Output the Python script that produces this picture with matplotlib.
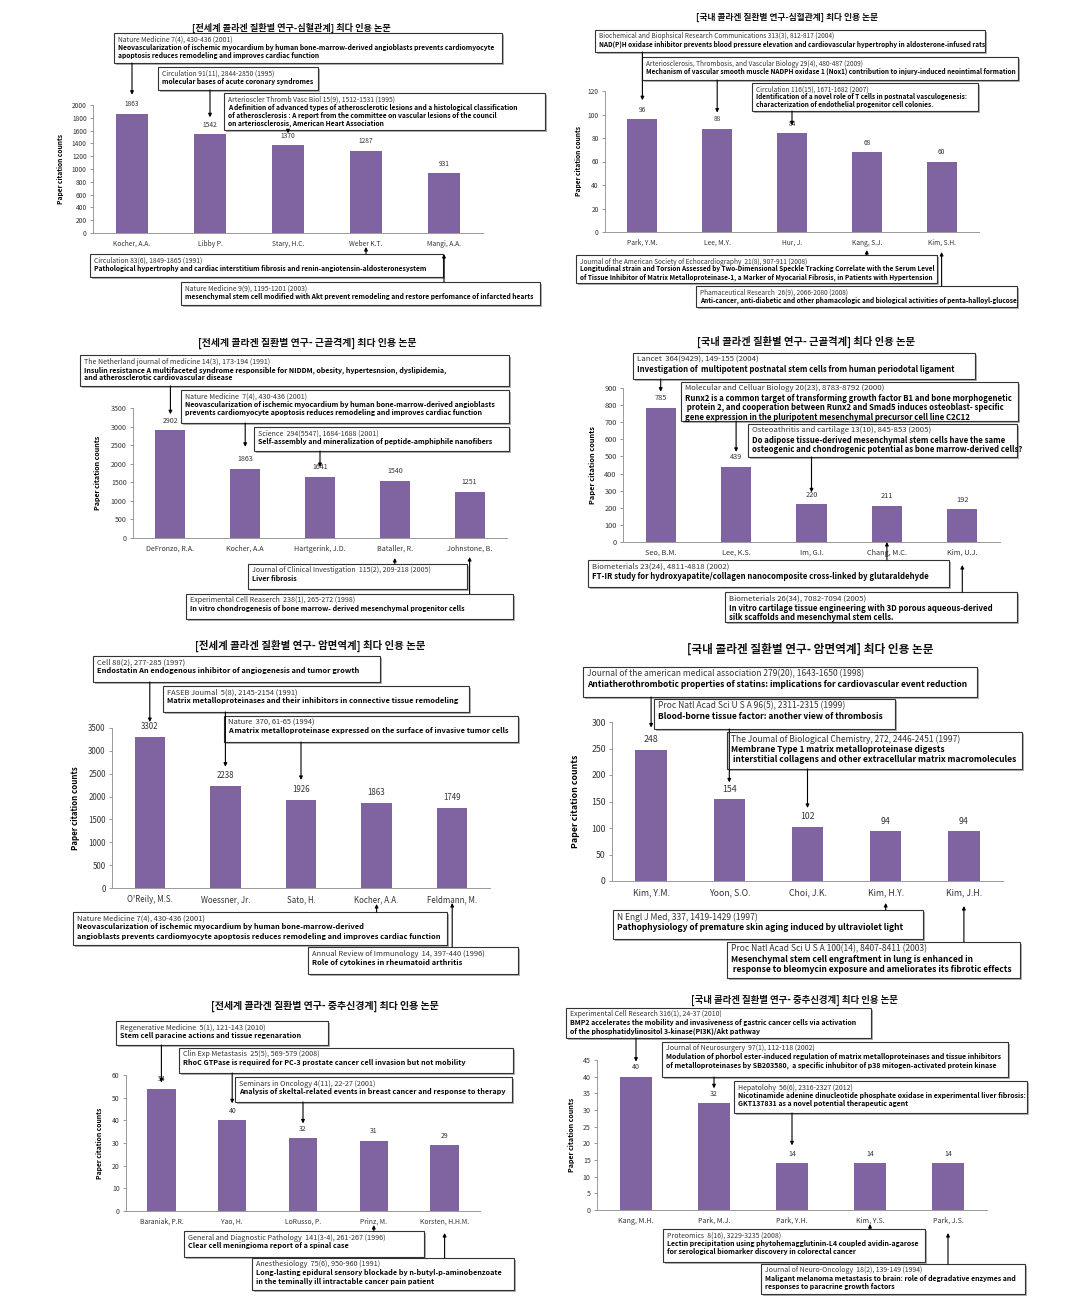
import numpy as np
import matplotlib
matplotlib.use('Agg')
import matplotlib.pyplot as plt
from matplotlib.patches import Rectangle
from matplotlib.transforms import blended_transform_factory

plt.rcParams['font.family'] = ['Noto Sans CJK KR', 'DejaVu Sans']

W, H = 1065, 1300
BAR_COLOR = '#8064A2'

# ---------------- data ----------------
p1_title = '[전세계 콜라겐 질환별 연구-심혈관계] 최다 인용 논문'
p1_names = ['Kocher, A.A.', 'Libby P.', 'Stary, H.C.', 'Weber K.T.', 'Mangi, A.A.']
p1_counts = [1863, 1542, 1370, 1287, 931]
p1_refs = [
    ['Nature Medicine 7(4), 430-436 (2001)',
     'Neovascularization of ischemic myocardium by human bone-marrow-derived angioblasts prevents cardiomyocyte',
     'apoptosis reduces remodeling and improves cardiac function'],
    ['Circulation 91(11), 2844-2850 (1995)',
     'molecular bases of acute coronary syndromes'],
    ['Arterioscler Thromb Vasc Biol 15(9), 1512-1531 (1995)',
     'A definition of advanced types of atherosclerotic lesions and a histological classification',
     'of atherosclerosis : A report from the committee on vascular lesions of the council',
     'on arteriosclerosis, American Heart Association'],
    ['Circulation 83(6), 1849-1865 (1991)',
     'Pathological hypertrophy and cardiac interstitium fibrosis and renin-angiotensin-aldosteronesystem'],
    ['Nature Medicine 9(9), 1195-1201 (2003)',
     'mesenchymal stem cell modified with Akt prevent remodeling and restore perfomance of infarcted hearts'],
]

p2_title = '[국내 콜라겐 질환별 연구-심혈관계] 최다 인용 논문'
p2_names = ['Park, Y.M.', 'Lee, M.Y.', 'Hur, J.', 'Kang, S.J.', 'Kim, S.H.']
p2_counts = [96, 88, 84, 68, 60]
p2_refs = [
    ['Biochemical and Biophsical Research Communications 313(3), 812-817 (2004)',
     'NAD(P)H oxidase inhibitor prevents blood pressure elevation and cardiovascular hypertrophy in aldosterone-infused rats'],
    ['Arteriosclerosis, Thrombosis, and Vascular Biology 29(4), 480-487 (2009)',
     'Mechanism of vascular smooth muscle NADPH oxidase 1 (Nox1) contribution to injury-induced neointimal formation'],
    ['Circulation 116(15), 1671-1682 (2007)',
     'Identification of a novel role of T cells in postnatal vasculogenesis:',
     'characterization of endothelial progenitor cell colonies.'],
    ['Journal of the American Society of Echocardiography  21(8), 907-911 (2008)',
     'Longitudinal strain and Torsion Assessed by Two-Dimensional Speckle Tracking Correlate with the Serum Level',
     'of Tissue Inhibitor of Matrix Metalloproteinase-1, a Marker of Myocarial Fibrosis, in Patients with Hypertension'],
    ['Phamaceutical Research  26(9), 2066-2080 (2008)',
     'Anti-cancer, anti-diabetic and other phamacologic and biological activities of penta-halloyl-glucose'],
]

p3_title = '[전세계 콜라겐 질환별 연구- 근골격계] 최다 인용 논문'
p3_names = ['DeFronzo, R.A.', 'Kocher, A.A', 'Hartgerink, J.D.', 'Bataller, R.', 'Johnstone, B.']
p3_counts = [2902, 1863, 1641, 1540, 1251]
p3_refs = [
    ['The Netherland journal of medicine 14(3), 173-194 (1991)',
     'Insulin resistance A multifaceted syndrome responsible for NIDDM, obesity, hypertesnsion, dyslipidemia,',
     'and atherosclerotic cardiovascular disease'],
    ['Nature Medicine  7(4), 430-436 (2001)',
     'Neovascularization of ischemic myocardium by human bone-marrow-derived angioblasts',
     'prevents cardiomyocyte apoptosis reduces remodeling and improves cardiac function'],
    ['Science  294(5547), 1684-1688 (2001)',
     'Self-assembly and mineralization of peptide-amphiphile nanofibers'],
    ['Journal of Clinical Investigation  115(2), 209-218 (2005)',
     'Liver fibrosis'],
    ['Experimental Cell Reaserch  238(1), 265-272 (1998)',
     'In vitro chondrogenesis of bone marrow- derived mesenchymal progenitor cells'],
]

p4_title = '[국내 콜라겐 질환별 연구- 근골격계] 최다 인용 논문'
p4_names = ['Seo, B.M.', 'Lee, K.S.', 'Im, G.I.', 'Chang, M.C.', 'Kim, U.J.']
p4_counts = [785, 439, 220, 211, 192]
p4_refs = [
    ['Lancet  364(9429), 149-155 (2004)',
     'Investigation of  multipotent postnatal stem cells from human periodotal ligament'],
    ['Molecular and Celluar Biology 20(23), 8783-8792 (2000)',
     'Runx2 is a common target of transforming growth factor B1 and bone morphogenetic',
     ' protein 2, and cooperation between Runx2 and Smad5 induces osteoblast- specific',
     'gene expression in the pluripotent mesenchymal precursor cell line C2C12'],
    ['Osteoathritis and cartilage 13(10), 845-853 (2005)',
     'Do adipose tissue-derived mesenchymal stem cells have the same',
     'osteogenic and chondrogenic potential as bone marrow-derived cells?'],
    ['Biometerials 23(24), 4811-4818 (2002)',
     'FT-IR study for hydroxyapatite/collagen nanocomposite cross-linked by glutaraldehyde'],
    ['Biometerials 26(34), 7082-7094 (2005)',
     'In vitro cartilage tissue engineering with 3D porous aqueous-derived',
     'silk scaffolds and mesenchymal stem cells.'],
]

p5_title = '[전세계 콜라겐 질환별 연구- 암면역계] 최다 인용 논문'
p5_names = ["O'Reily, M.S.", 'Woessner, Jr.', 'Sato, H.', 'Kocher, A.A.', 'Feldmann, M.']
p5_counts = [3302, 2238, 1926, 1863, 1749]
p5_refs = [
    ['Cell 88(2), 277-285 (1997)',
     'Endostatin An endogenous inhibitor of angiogenesis and tumor growth'],
    ['FASEB Joumal  5(8), 2145-2154 (1991)',
     'Matrix metalloproteinases and their inhibitors in connective tissue remodeling'],
    ['Nature  370, 61-65 (1994)',
     'A matrix metalloproteinase expressed on the surface of invasive tumor cells'],
    ['Nature Medicine 7(4), 430-436 (2001)',
     'Neovascularization of ischemic myocardium by human bone-marrow-derived',
     'angioblasts prevents cardiomyocyte apoptosis reduces remodeling and improves cardiac function'],
    ['Annual Review of Immunology  14, 397-440 (1996)',
     'Role of cytokines in rheumatoid arthritis'],
]

p6_title = '[국내 콜라겐 질환별 연구- 암면역계] 최다 인용 논문'
p6_names = ['Kim, Y.M.', 'Yoon, S.O.', 'Choi, J.K.', 'Kim, H.Y.', 'Kim, J.H.']
p6_counts = [248, 154, 102, 94, 94]
p6_refs = [
    ['Journal of the american medical association 279(20), 1643-1650 (1998)',
     'Antiatherothrombotic properties of statins: implications for cardiovascular event reduction'],
    ['Proc Natl Acad Sci U S A 96(5), 2311-2315 (1999)',
     'Blood-borne tissue factor: another view of thrombosis'],
    ['The Joumal of Biological Chemistry, 272, 2446-2451 (1997)',
     'Membrane Type 1 matrix metalloproteinase digests',
     ' interstitial collagens and other extracellular matrix macromolecules'],
    ['N Engl J Med, 337, 1419-1429 (1997)',
     'Pathophysiology of premature skin aging induced by ultraviolet light'],
    ['Proc Natl Acad Sci U S A 100(14), 8407-8411 (2003)',
     'Mesenchymal stem cell engraftment in lung is enhanced in',
     ' response to bleomycin exposure and ameliorates its fibrotic effects'],
]

p7_title = '[전세계 콜라겐 질환별 연구- 중추신경계] 최다 인용 논문'
p7_names = ['Baraniak, P.R.', 'Yao, H.', 'LoRusso, P.', 'Prinz, M.', 'Korsten, H.H.M.']
p7_counts = [54, 40, 32, 31, 29]
p7_refs = [
    ['Regenerative Medicine  5(1), 121-143 (2010)',
     'Stem cell paracine actions and tissue regenaration'],
    ['Clin Exp Metastasis  25(5), 569-579 (2008)',
     'RhoC GTPase is required for PC-3 prostate cancer cell invasion but not mobility'],
    ['Seminars in Oncology 4(11), 22-27 (2001)',
     'Analysis of skeltal-related events in breast cancer and response to therapy'],
    ['General and Diagnostic Pathology  141(3-4), 261-267 (1996)',
     'Clear cell meningioma report of a spinal case'],
    ['Anesthesiology  75(6), 950-960 (1991)',
     'Long-lasting epidural sensory blockade by n-butyl-p-aminobenzoate',
     'in the teminally ill intractable cancer pain patient'],
]

p8_title = '[국내 콜라겐 질환별 연구- 중추신경계] 최다 인용 논문'
p8_names = ['Kang, M.H.', 'Park, M.J.', 'Park, Y.H.', 'Kim, Y.S.', 'Park, J.S.']
p8_counts = [40, 32, 14, 14, 14]
p8_refs = [
    ['Experimental Cell Research 316(1), 24-37 (2010)',
     'BMP2 accelerates the mobility and invasiveness of gastric cancer cells via activation',
     'of the phosphatidylinositol 3-kinase(PI3K)/Akt pathway'],
    ['Journal of Neurosurgery  97(1), 112-118 (2002)',
     'Modulation of phorbol ester-induced regulation of matrix metalloproteinases and tissue inhibitors',
     'of metalloproteinases by SB203580,  a specific inhubitor of p38 mitogen-activated protein kinase'],
    ['Hepatolohy  56(6), 2316-2327 (2012)',
     'Nicotinamide adenine dinucleotide phosphate oxidase in experimental liver fibrosis:',
     'GKT137831 as a novel potential therapeutic agent'],
    ['Proteomics  8(16), 3229-3235 (2008)',
     'Lectin precipitation using phytohemagglutinin-L4 coupled avidin-agarose',
     'for serological biomarker discovery in colorectal cancer'],
    ['Journal of Neuro-Oncology  18(2), 139-149 (1994)',
     'Maligant melanoma metastasis to brain: role of degradative enzymes and',
     'responses to paracrine growth factors'],
]

# ---------------- layout (image pixel coords, y down) ----------------
# axes: left, top, right, bottom ; boxes: x0, y0, x1, y1, arrow gap px
layouts = [
    dict(ax=(93, 105, 483, 233), ymax=2000, step=200, title=(291, 28, 6.6), ylab=64,
         fs=4.8, bfs=4.85,
         boxes=[(114, 33, 502, 63, 19), (158, 67, 318, 90, 17), (224, 93, 545, 130, 12),
                (90, 254, 443, 277, 14), (181, 282, 540, 305, 21)]),
    dict(ax=(605, 91, 979, 232), ymax=120, step=20, title=(787, 17, 6.3), ylab=582,
         fs=4.8, bfs=4.65,
         boxes=[(595, 30, 985, 52, 19), (642, 57, 1018, 80, 16), (752, 83, 978, 111, 8),
                (576, 255, 937, 283, 18), (696, 286, 1017, 307, 20)]),
    dict(ax=(133, 408, 507, 538), ymax=3500, step=500, title=(307, 343, 7.1), ylab=101,
         fs=5.1, bfs=5.1,
         boxes=[(80, 355, 509, 386, 16), (181, 390, 509, 423, 22), (254, 427, 509, 451, 10),
                (248, 564, 467, 589, 20), (186, 594, 513, 619, 19)]),
    dict(ax=(623, 388, 1000, 542), ymax=900, step=100, title=(806, 342, 7.4), ylab=596,
         fs=5.3, bfs=5.6,
         boxes=[(633, 353, 975, 379, 16), (681, 382, 1018, 421, 15), (748, 424, 1017, 457, 12),
                (588, 560, 949, 587, 20), (725, 592, 1017, 622, 23)]),
    dict(ax=(112, 728, 490, 888), ymax=3500, step=500, title=(310, 646, 7.5), ylab=80,
         fs=5.7, bfs=5.4,
         boxes=[(93, 656, 380, 682, 15), (163, 686, 469, 712, 19), (224, 716, 518, 742, 20),
                (73, 912, 447, 945, 16), (308, 947, 518, 974, 15)]),
    dict(ax=(612, 722, 1003, 881), ymax=300, step=50, title=(810, 649, 8.4), ylab=580,
         fs=6.3, bfs=6.1,
         boxes=[(583, 667, 977, 697, 22), (654, 699, 895, 729, 17), (727, 732, 1022, 769, 19),
                (613, 910, 923, 939, 22), (727, 942, 1020, 978, 25)]),
    dict(ax=(126, 1075, 480, 1211), ymax=60, step=10, title=(325, 1006, 7.2), ylab=103,
         fs=4.9, bfs=5.2,
         boxes=[(116, 1021, 328, 1045, 6), (179, 1048, 513, 1073, 17), (235, 1077, 512, 1102, 15),
                (184, 1231, 424, 1257, 14), (252, 1258, 514, 1290, 22)]),
    dict(ax=(597, 1060, 987, 1210), ymax=45, step=5, title=(794, 1000, 6.8), ylab=575,
         fs=5.1, bfs=5.0,
         boxes=[(566, 1008, 871, 1038, 15), (662, 1042, 1008, 1077, 15), (734, 1081, 1027, 1113, 18),
                (663, 1229, 925, 1262, 14), (761, 1264, 1025, 1294, 23)]),
]

panels = [
    (p1_title, p1_names, p1_counts, p1_refs),
    (p2_title, p2_names, p2_counts, p2_refs),
    (p3_title, p3_names, p3_counts, p3_refs),
    (p4_title, p4_names, p4_counts, p4_refs),
    (p5_title, p5_names, p5_counts, p5_refs),
    (p6_title, p6_names, p6_counts, p6_refs),
    (p7_title, p7_names, p7_counts, p7_refs),
    (p8_title, p8_names, p8_counts, p8_refs),
]

PX2PT = 72.0 / 100.0

fig = plt.figure(figsize=(W / 100, H / 100), dpi=100)
fig.patch.set_facecolor('white')

axes_list = []
for (title, names, counts, refs), lay in zip(panels, layouts):
    l, t, r, b = lay['ax']
    ax = fig.add_axes([l / W, 1 - b / H, (r - l) / W, (b - t) / H])
    x = np.arange(len(names))
    ax.bar(x, counts, width=0.4, color=BAR_COLOR, zorder=2)
    ax.set_xlim(-0.5, len(names) - 0.5)
    ax.set_ylim(0, lay['ymax'])
    ax.set_yticks(np.arange(0, lay['ymax'] + 1, lay['step']))
    ax.set_xticks(x)
    ax.set_xticklabels(names)
    ax.tick_params(axis='x', length=0, pad=5, labelsize=lay['fs'], colors='#333333')
    ax.tick_params(axis='y', length=2.5, width=0.6, pad=2, labelsize=lay['fs'],
                   colors='#333333', color='#888888')
    for side in ['top', 'right']:
        ax.spines[side].set_visible(False)
    for side in ['left', 'bottom']:
        ax.spines[side].set_color('#999999')
        ax.spines[side].set_linewidth(0.7)
    for i, v in enumerate(counts):
        ax.annotate(str(v), (i, v), xytext=(0, 4), textcoords='offset points',
                    ha='center', va='bottom', fontsize=lay['fs'], color='#333333')
    ax.set_ylabel('Paper citation counts', fontsize=lay['fs'], fontweight='bold')
    ax.yaxis.set_label_coords((lay['ylab'] - l) / (r - l), 0.5)
    axes_list.append(ax)

# overlay in image pixel coordinates for titles, boxes and arrows
ov = fig.add_axes([0, 0, 1, 1])
ov.set_xlim(0, W)
ov.set_ylim(H, 0)
ov.axis('off')
ov.patch.set_visible(False)

for (title, names, counts, refs), lay, ax in zip(panels, layouts, axes_list):
    tx, ty, tfs = lay['title']
    ov.text(tx, ty, title, ha='center', va='center', fontsize=tfs, fontweight='bold',
            color='#111111')
    bfs = lay['bfs']
    lh = bfs / PX2PT * 1.2
    trans = blended_transform_factory(ax.transData, ov.transData)
    for k, (lines, bx) in enumerate(zip(refs, lay['boxes'])):
        x0, y0, x1, y1, gap = bx
        # soft shadow then box
        ov.add_patch(Rectangle((x0 + 1.5, y0 + 1.5), x1 - x0, y1 - y0, facecolor='#b0b0b0',
                               edgecolor='none', zorder=2))
        ov.add_patch(Rectangle((x0, y0), x1 - x0, y1 - y0, facecolor='white',
                               edgecolor='#333333', lw=0.8, zorder=2))
        for j, line in enumerate(lines):
            ov.text(x0 + 4, y0 + 2.5 + j * lh, line, ha='left', va='top', fontsize=bfs,
                    fontweight='normal' if j == 0 else 'bold',
                    color='#333333' if j == 0 else '#000000', zorder=3)
        if k < 3:
            # arrow from box bottom down to the bar value
            ov.annotate('', xy=(k, counts[k]), xycoords=ax.transData,
                        xytext=(k, y1), textcoords=trans,
                        arrowprops=dict(arrowstyle='-|>', color='black', lw=0.8,
                                        mutation_scale=5, shrinkA=0, shrinkB=gap * PX2PT),
                        zorder=4)
        else:
            # arrow from box top up to the category label
            ov.annotate('', xy=(k, 0), xycoords=ax.transData,
                        xytext=(k, y0), textcoords=trans,
                        arrowprops=dict(arrowstyle='-|>', color='black', lw=0.8,
                                        mutation_scale=5, shrinkA=0, shrinkB=gap * PX2PT),
                        zorder=4)

fig.savefig('out.png', dpi=100)
